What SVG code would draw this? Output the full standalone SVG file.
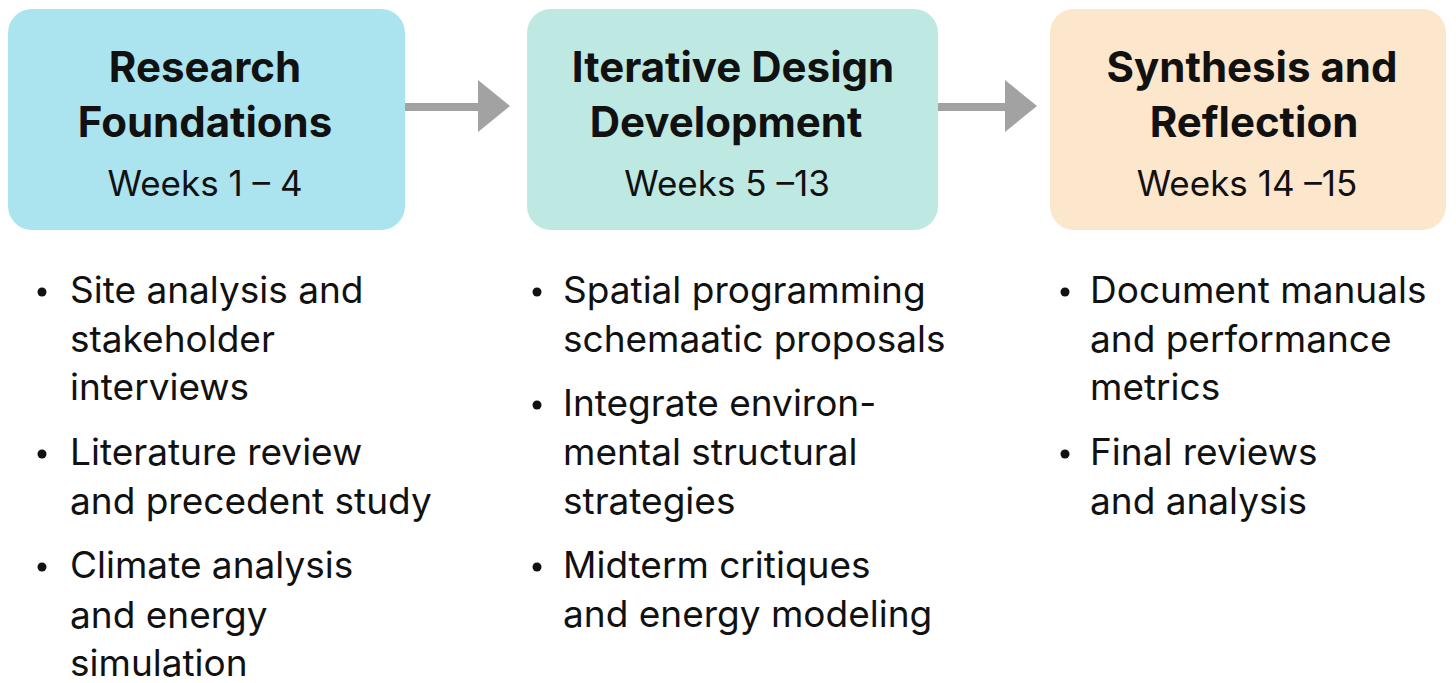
<svg xmlns="http://www.w3.org/2000/svg" width="1456" height="683" viewBox="0 0 1456 683">
<style>
.t{font-family:Inter,"Liberation Sans",sans-serif;font-weight:700;font-size:42px;fill:#111;text-anchor:middle}
.w{font-family:Inter,"Liberation Sans",sans-serif;font-size:35px;fill:#111;text-anchor:middle}
.b{font-family:Inter,"Liberation Sans",sans-serif;font-size:37px;fill:#111}
.arr{fill:#a2a2a2}
</style>
<rect width="1456" height="683" fill="#fff"/>
<g id="connectors">
<rect class="arr" x="405" y="103" width="75" height="8"/>
<polygon class="arr" points="478,80 510,106 478,132"/>
<rect class="arr" x="938" y="103" width="70" height="8"/>
<polygon class="arr" points="1005,80 1037,106 1005,132"/>
</g>
<g id="node1">
<rect x="8" y="9" width="397" height="221" rx="24" fill="#abe3ee"/>
<text class="t" x="205" y="82">Research</text>
<text class="t" x="205" y="137">Foundations</text>
<text class="w" x="205" y="196">Weeks 1 – 4</text>
</g>
<g id="node2">
<rect x="527" y="9" width="411" height="221" rx="24" fill="#bee8e2"/>
<text class="t" x="733" y="82">Iterative Design</text>
<text class="t" x="726" y="137">Development</text>
<text class="w" x="727" y="196">Weeks 5 –13</text>
</g>
<g id="node3">
<rect x="1050" y="9" width="396" height="221" rx="24" fill="#fce6cc"/>
<text class="t" x="1252" y="82">Synthesis and</text>
<text class="t" x="1254" y="137">Reflection</text>
<text class="w" x="1247" y="196">Weeks 14 –15</text>
</g>
<g id="list1">
<circle cx="42" cy="292" r="4.5" fill="#111"/>
<circle cx="42" cy="454" r="4.5" fill="#111"/>
<circle cx="42" cy="567" r="4.5" fill="#111"/>
<text class="b" x="70" y="303">Site analysis and</text>
<text class="b" x="70" y="352">stakeholder</text>
<text class="b" x="70" y="400">interviews</text>
<text class="b" x="70" y="465">Literature review</text>
<text class="b" x="70" y="514">and precedent study</text>
<text class="b" x="70" y="578">Climate analysis</text>
<text class="b" x="70" y="628">and energy</text>
<text class="b" x="70" y="676">simulation</text>
</g>
<g id="list2">
<circle cx="537" cy="292" r="4.5" fill="#111"/>
<circle cx="537" cy="405" r="4.5" fill="#111"/>
<circle cx="537" cy="567" r="4.5" fill="#111"/>
<text class="b" x="563" y="303">Spatial programming</text>
<text class="b" x="563" y="352">schemaatic proposals</text>
<text class="b" x="563" y="416">Integrate environ-</text>
<text class="b" x="563" y="465">mental structural</text>
<text class="b" x="563" y="514">strategies</text>
<text class="b" x="563" y="578">Midterm critiques</text>
<text class="b" x="563" y="627">and energy modeling</text>
</g>
<g id="list3">
<circle cx="1065" cy="292" r="4.5" fill="#111"/>
<circle cx="1065" cy="454" r="4.5" fill="#111"/>
<text class="b" x="1090" y="303">Document manuals</text>
<text class="b" x="1090" y="352">and performance</text>
<text class="b" x="1090" y="400">metrics</text>
<text class="b" x="1090" y="465">Final reviews</text>
<text class="b" x="1090" y="514">and analysis</text>
</g>
</svg>
